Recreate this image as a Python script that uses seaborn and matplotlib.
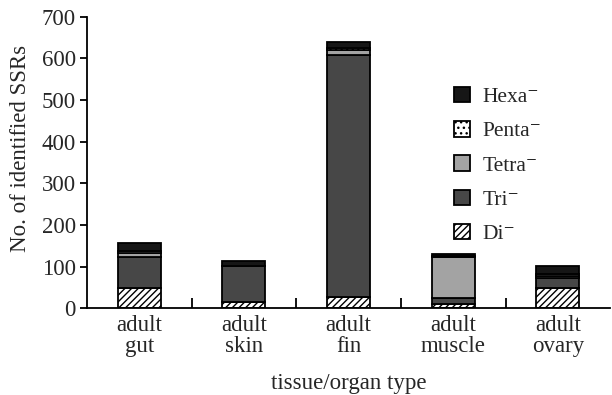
import matplotlib
matplotlib.use("Agg")
import matplotlib.pyplot as plt
import seaborn as sns
import numpy as np
import pandas as pd
from matplotlib.patches import Patch

categories = ["adult\ngut", "adult\nskin", "adult\nfin", "adult\nmuscle", "adult\novary"]
di = [48, 15, 28, 10, 49]
tri = [76, 88, 580, 15, 25]
tetra = [10, 0, 12, 98, 5]
penta = [4, 0, 5, 2, 3]
hexa = [20, 12, 15, 5, 20]

series_names = ["Di⁻", "Tri⁻", "Tetra⁻", "Penta⁻", "Hexa⁻"]
series_vals = [di, tri, tetra, penta, hexa]
colors = ["white", "#474747", "#a3a3a3", "white", "#161616"]
hatches = ["/////", None, None, "...", None]

sns.set_theme(style="ticks")
plt.rcParams["font.family"] = ["Liberation Serif", "DejaVu Serif"]
plt.rcParams["hatch.color"] = "#9a9a9a"
plt.rcParams["hatch.linewidth"] = 1.0

FS = 16.5

fig = plt.figure(figsize=(6.12, 3.95), dpi=100)
ax = fig.add_axes([0.142, 0.219, 0.855, 0.739])

bottom = np.zeros(len(categories))
handles = []
for name, vals, col, h in zip(series_names, series_vals, colors, hatches):
    df = pd.DataFrame({"cat": categories, "val": vals})
    n_before = len(ax.patches)
    sns.barplot(data=df, x="cat", y="val", bottom=bottom, color=col,
                edgecolor="black", linewidth=1.3, width=0.41, ax=ax,
                saturation=1)
    for p in ax.patches[n_before:]:
        p.set_facecolor(col)
        if h:
            p.set_hatch(h)
    bottom = bottom + np.array(vals)
    handles.append(Patch(facecolor=col, edgecolor="black", hatch=h, linewidth=1.3, label=name))

ax.set_ylim(0, 700)
ax.set_xlim(-0.5, 4.5)
ax.set_yticks(np.arange(0, 701, 100))
ax.set_xticks(range(len(categories)))
ax.set_xticklabels(categories, fontsize=FS, linespacing=0.95)
ax.tick_params(axis="x", which="major", length=0, pad=5)
ax.set_xticks(np.arange(0.5, 4.0, 1.0), minor=True)
ax.tick_params(axis="x", which="minor", direction="in", length=7, width=1.3, color="black")
ax.tick_params(axis="y", direction="out", length=5, width=1.3, labelsize=FS, color="black", pad=3)
for s in ["top", "right"]:
    ax.spines[s].set_visible(False)
for s in ["left", "bottom"]:
    ax.spines[s].set_linewidth(1.3)
    ax.spines[s].set_color("black")
ax.set_xlabel("tissue/organ type", fontsize=FS, labelpad=12)
ax.set_ylabel("No. of identified SSRs", fontsize=FS, labelpad=6)
ax.yaxis.set_label_coords(-0.106, 0.55)

leg = ax.legend(handles=handles[::-1], loc="upper left", bbox_to_anchor=(0.665, 0.825),
                frameon=False, fontsize=15.5, handlelength=0.72, handleheight=0.72,
                labelspacing=0.65, handletextpad=0.6)

fig.savefig("out.png", dpi=100)
